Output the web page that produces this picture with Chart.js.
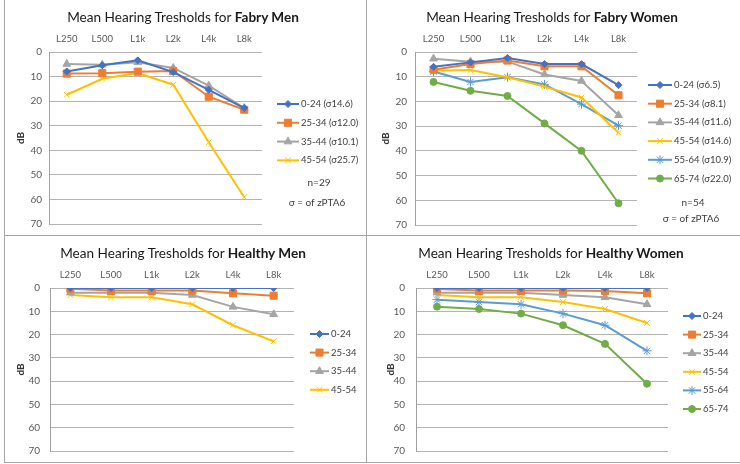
<!DOCTYPE html>
<html>
<head>
<meta charset="utf-8">
<script src="https://cdn.jsdelivr.net/npm/chart.js@4.4.1/dist/chart.umd.min.js"></script>
<style>
  body { margin: 0; background: #fff; width: 740px; height: 464px; overflow: hidden; position: relative; font-family: Lato, "Liberation Sans", sans-serif; }
  .panel { position: absolute; }
  .panel canvas { position: absolute; left: 0; top: 0; }
  .title { position: absolute; white-space: nowrap; font-size: 13.6px; color: #1a1a1a; transform: translate(-50%, -50%); }
  .rule { position: absolute; background: #a6a6a6; }
</style>
</head>
<body>
<div class="rule" style="left:4px;top:0;width:1px;height:463px"></div>
<div class="rule" style="left:366px;top:0;width:1px;height:463px"></div>
<div class="rule" style="left:4px;top:235px;width:736px;height:1px"></div>
<div class="rule" style="left:4px;top:462px;width:736px;height:1px"></div>

<div class="panel" style="left:5px;top:0"><canvas id="fabryMen" width="361" height="235"></canvas>
  <div class="title" style="left:178px;top:17px">Mean Hearing Tresholds for <b>Fabry Men</b></div></div>
<div class="panel" style="left:367px;top:0"><canvas id="fabryWomen" width="372" height="235"></canvas>
  <div class="title" style="left:185px;top:17px">Mean Hearing Tresholds for <b>Fabry Women</b></div></div>
<div class="panel" style="left:5px;top:236px"><canvas id="healthyMen" width="361" height="226"></canvas>
  <div class="title" style="left:178px;top:17px">Mean Hearing Tresholds for <b>Healthy Men</b></div></div>
<div class="panel" style="left:367px;top:236px"><canvas id="healthyWomen" width="372" height="226"></canvas>
  <div class="title" style="left:184px;top:17px">Mean Hearing Tresholds for <b>Healthy Women</b></div></div>

<script>
// frequencies along the top axis
const freqLabels = ['L250', 'L500', 'L1k', 'L2k', 'L4k', 'L8k'];
const ageGroups = ['0-24', '25-34', '35-44', '45-54', '55-64', '65-74'];
const yTicks = [0, 10, 20, 30, 40, 50, 60, 70];

// Fabry men (dB)
const fabryMen0_24  = [7.9, 5.4, 3.4, 8.2, 15.4, 22.8];
const fabryMen25_34 = [8.8, 8.6, 8.0, 7.7, 18.2, 23.5];
const fabryMen35_44 = [4.9, 5.2, 4.2, 6.5, 13.7, 22.8];
const fabryMen45_54 = [17.4, 10.9, 8.6, 13.3, 36.7, 59.1];
const fabryMenSigma = ['14.6', '12.0', '10.1', '25.7'];

// Fabry women (dB)
const fabryWomen0_24  = [6.0, 4.2, 2.4, 4.9, 4.9, 13.4];
const fabryWomen25_34 = [7.2, 4.9, 3.4, 5.8, 5.8, 17.5];
const fabryWomen35_44 = [2.7, 3.9, 3.9, 9.1, 11.7, 25.6];
const fabryWomen45_54 = [7.6, 7.3, 10.2, 14.0, 18.4, 32.7];
const fabryWomen55_64 = [7.9, 12.1, 10.2, 13.1, 21.1, 29.8];
const fabryWomen65_74 = [12.1, 15.7, 17.8, 28.9, 40.0, 61.2];
const fabryWomenSigma = ['6.5', '8.1', '11.6', '14.6', '10.9', '22.0'];

// Healthy men (dB)
const healthyMen0_24  = [0, 0, 0, 0, 0, 0];
const healthyMen25_34 = [0.3, 1.1, 1.1, 1.1, 2.3, 3.3];
const healthyMen35_44 = [2, 2, 2, 3, 8.1, 11.3];
const healthyMen45_54 = [3, 4, 4, 7, 16, 22.9];

// Healthy women (dB)
const healthyWomen0_24  = [0, 0, 0, 0, 0, 0];
const healthyWomen25_34 = [0.4, 1.1, 1.1, 1.1, 1.3, 2.3];
const healthyWomen35_44 = [2, 2, 2, 3, 4, 7];
const healthyWomen45_54 = [3, 4, 4, 6, 9, 15];
const healthyWomen55_64 = [5, 6, 7, 11, 16, 27];
const healthyWomen65_74 = [8, 9, 11, 16, 24, 41.1];

// excel-ish series look, one per age group
const seriesStyles = [
  { color: '#4472C4', point: 'rectRot', radius: 3.5 },
  { color: '#ED7D31', point: 'rect', radius: 5 },
  { color: '#A5A5A5', point: 'triangle', radius: 4.5 },
  { color: '#FFC000', point: 'crossRot', radius: 4 },
  { color: '#5B9BD5', point: 'star', radius: 4.5 },
  { color: '#70AD47', point: 'circle', radius: 3.5 }
];

function makeDatasets(seriesList, sigmas) {
  return seriesList.map((values, i) => {
    const st = seriesStyles[i];
    return {
      label: sigmas ? `${ageGroups[i]} (σ${sigmas[i]})` : ageGroups[i],
      data: values,
      borderColor: st.color,
      backgroundColor: st.color,
      borderWidth: 2,
      pointStyle: st.point,
      pointRadius: st.radius,
      pointBorderWidth: 1,
      pointBackgroundColor: st.color,
      pointBorderColor: st.color,
      tension: 0
    };
  });
}

// legend on the right, line with marker in the middle + note lines below
const sideLegend = {
  id: 'sideLegend',
  afterDraw(chart, args, opts) {
    const ctx = chart.ctx;
    const drawPoint = Chart.helpers && Chart.helpers.drawPoint;
    ctx.save();
    ctx.font = '9.5px Lato';
    ctx.textBaseline = 'middle';
    chart.data.datasets.forEach((ds, i) => {
      const y = opts.top + i * opts.step;
      ctx.strokeStyle = ds.borderColor;
      ctx.lineWidth = 2;
      ctx.beginPath();
      ctx.moveTo(opts.left, y);
      ctx.lineTo(opts.left + opts.lineLen, y);
      ctx.stroke();
      if (drawPoint) {
        ctx.fillStyle = ds.borderColor;
        ctx.lineWidth = 1;
        drawPoint(ctx, { pointStyle: ds.pointStyle, radius: ds.pointRadius, borderWidth: 1, rotation: 0 },
          opts.left + opts.lineLen / 2, y);
      }
      ctx.fillStyle = '#404040';
      ctx.textAlign = 'left';
      ctx.fillText(ds.label, opts.left + opts.lineLen + 2, y);
    });
    (opts.notes || []).forEach(n => {
      ctx.fillStyle = '#404040';
      ctx.textAlign = 'center';
      ctx.font = '10px Lato';
      ctx.fillText(n.text, n.x, n.y);
    });
    ctx.restore();
  }
};

function makeChart(id, datasets, box) {
  new Chart(document.getElementById(id), {
    type: 'line',
    data: { labels: freqLabels, datasets: datasets },
    plugins: [sideLegend],
    options: {
      responsive: false,
      animation: false,
      layout: { padding: { left: 0, top: 32, right: box.right, bottom: box.bottom } },
      plugins: {
        legend: { display: false },
        tooltip: { enabled: false },
        sideLegend: box.legend
      },
      scales: {
        x: {
          position: 'top',
          offset: true,
          grid: { display: false, drawTicks: false },
          border: { display: false },
          ticks: { color: '#595959', font: { family: 'Lato', size: 9.5 }, padding: 7, maxRotation: 0 },
          afterFit: s => { s.height = 20; s.paddingLeft = 0; s.paddingRight = 0; }
        },
        y: {
          reverse: true,
          min: 0,
          max: 70,
          afterBuildTicks: s => { s.ticks = yTicks.map(v => ({ value: v })); },
          grid: { color: '#b3b3b3', drawTicks: false },
          border: { display: true, color: '#a0a0a0' },
          ticks: { color: '#595959', font: { family: 'Lato', size: 10 }, padding: box.tickPad },
          title: { display: true, text: 'dB', color: '#333', font: { family: 'Lato', size: 10, weight: 'bold' }, padding: { top: box.titlePad, bottom: 0 } },
          afterFit: s => { s.width = box.axisW; s.paddingTop = 0; s.paddingBottom = 0; }
        }
      }
    }
  });
}

makeChart('fabryMen',
  makeDatasets([fabryMen0_24, fabryMen25_34, fabryMen35_44, fabryMen45_54], fabryMenSigma),
  { axisW: 44, right: 104, bottom: 11, tickPad: 7, titlePad: 10,
    legend: { left: 272, lineLen: 22, top: 104, step: 18.8,
      notes: [{ text: 'n=29', x: 314, y: 183 }, { text: 'σ = of zPTA6', x: 312, y: 203 }] } });

makeChart('fabryWomen',
  makeDatasets([fabryWomen0_24, fabryWomen25_34, fabryWomen35_44, fabryWomen45_54, fabryWomen55_64, fabryWomen65_74], fabryWomenSigma),
  { axisW: 48, right: 102, bottom: 10, tickPad: 8, titlePad: 13,
    legend: { left: 281, lineLen: 24, top: 85, step: 18.7,
      notes: [{ text: 'n=54', x: 326, y: 203 }, { text: 'σ = of zPTA6', x: 324, y: 219 }] } });

makeChart('healthyMen',
  makeDatasets([healthyMen0_24, healthyMen25_34, healthyMen35_44, healthyMen45_54], null),
  { axisW: 45, right: 72, bottom: 11, tickPad: 10, titlePad: 10,
    legend: { left: 305, lineLen: 19, top: 98, step: 18.6, notes: [] } });

makeChart('healthyWomen',
  makeDatasets([healthyWomen0_24, healthyWomen25_34, healthyWomen35_44, healthyWomen45_54, healthyWomen55_64, healthyWomen65_74], null),
  { axisW: 49, right: 71, bottom: 11, tickPad: 11, titlePad: 18,
    legend: { left: 316, lineLen: 18, top: 80, step: 18.6, notes: [] } });
</script>
</body>
</html>
